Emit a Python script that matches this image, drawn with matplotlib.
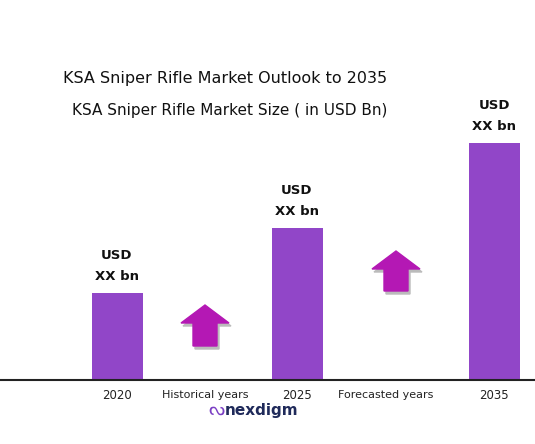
import matplotlib.pyplot as plt
from matplotlib.patches import Polygon

years = ['2020', '2025', '2035']
bar_heights = [87, 152, 237]
bar_centers = [117, 297, 494]
value_labels = ['USD\nXX bn', 'USD\nXX bn', 'USD\nXX bn']
period_labels = ['Historical years', 'Forecasted years']
period_x = [205, 386]

W, H = 535, 444
base = 380
fig = plt.figure(figsize=(W / 100, H / 100), dpi=100)
ax = fig.add_axes([0, 0, 1, 1])
ax.set_xlim(0, W)
ax.set_ylim(0, H)
ax.axis('off')

def py(y):
    return H - y

ax.bar(bar_centers, bar_heights, width=51, bottom=py(base), color='#9146c8', zorder=2)
ax.plot([0, W], [py(base), py(base)], color='#222222', lw=1.5, zorder=3)

for x, h, lab in zip(bar_centers, bar_heights, value_labels):
    ax.text(x, py(base) + h + 10, lab, ha='center', va='bottom', fontsize=9.5,
            fontweight='bold', linespacing=1.8, color='#111111')

for x, lab in zip(bar_centers, years):
    ax.text(x, py(395), lab, ha='center', va='center', fontsize=8.5, color='#222222')
for x, lab in zip(period_x, period_labels):
    ax.text(x, py(395), lab, ha='center', va='center', fontsize=8, color='#222222')

def arrow(cx, top, bottom):
    pts = [(cx, top), (cx + 24, top + 18), (cx + 12, top + 18), (cx + 12, bottom),
           (cx - 12, bottom), (cx - 12, top + 18), (cx - 24, top + 18)]
    shadow = [(x + 2, py(y + 3)) for x, y in pts]
    ax.add_patch(Polygon(shadow, closed=True, color='#bbbbbb', zorder=3))
    ax.add_patch(Polygon([(x, py(y)) for x, y in pts], closed=True, color='#b418b4', zorder=4))

arrow(205, 305, 346)
arrow(396, 251, 291)

ax.text(225, py(78), 'KSA Sniper Rifle Market Outlook to 2035', ha='center', va='center',
        fontsize=11.5, color='#111111')
ax.text(230, py(110), 'KSA Sniper Rifle Market Size ( in USD Bn)', ha='center', va='center',
        fontsize=11, color='#111111')

ax.text(216, py(410), 'ᔓ', ha='center', va='center', fontsize=13, color='#7b3fc4')
ax.text(262, py(410), 'nexdigm', ha='center', va='center', fontsize=11,
        fontweight='bold', color='#1f2a5a')

fig.savefig('out.png', dpi=100)
